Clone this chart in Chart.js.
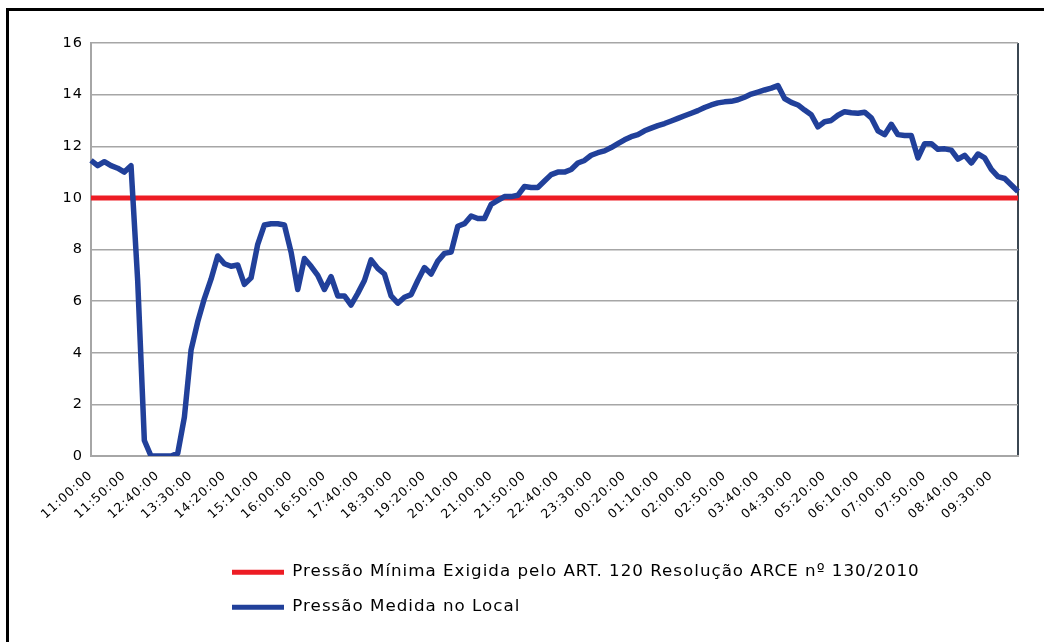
<!DOCTYPE html>
<html><head><meta charset="utf-8">
<script src="https://cdn.jsdelivr.net/npm/chart.js@4.4.1/dist/chart.umd.min.js"></script>
<style>
html,body{margin:0;padding:0;background:#fff;}
#wrap{position:relative;width:1044px;height:642px;overflow:hidden;}
#frame{position:absolute;left:6px;top:8px;width:1100px;height:700px;border-left:3px solid #000;border-top:3px solid #000;}
#c{position:absolute;left:0;top:0;}
</style></head><body>
<div id="wrap"><div id="frame"></div><canvas id="c" width="1044" height="642"></canvas></div>
<script>
// ---- data ----
const startHour = 11, startMinute = 0, stepMinutes = 10, tickEvery = 5;
const pressureMeasured = [
 11.45,11.25,11.4,11.25,11.15,11.0,11.25,6.8,0.6,0,
 0,0,0,0.1,1.5,4.1,5.2,6.1,6.85,7.75,
 7.45,7.35,7.4,6.65,6.9,8.2,8.95,9.0,9.0,8.95,
 7.9,6.45,7.65,7.35,7.0,6.45,6.95,6.2,6.2,5.85,
 6.3,6.8,7.6,7.27,7.05,6.2,5.92,6.15,6.25,6.8,
 7.3,7.05,7.55,7.85,7.9,8.9,9.0,9.3,9.2,9.2,
 9.75,9.9,10.05,10.05,10.1,10.44,10.4,10.4,10.65,10.9,
 11.0,11.0,11.1,11.35,11.45,11.65,11.75,11.82,11.95,12.1,
 12.25,12.37,12.45,12.6,12.7,12.8,12.88,12.98,13.08,13.18,
 13.28,13.38,13.5,13.6,13.68,13.72,13.74,13.8,13.9,14.02,
 14.1,14.18,14.25,14.35,13.85,13.7,13.6,13.4,13.22,12.75,
 12.95,13.0,13.2,13.34,13.3,13.28,13.32,13.1,12.6,12.45,
 12.85,12.45,12.42,12.42,11.55,12.1,12.1,11.88,11.9,11.85,
 11.5,11.65,11.35,11.7,11.55,11.1,10.82,10.75,10.5,10.25
];
const minimumPressure = 10;
const seriesNames = [
  'Pressão Mínima Exigida pelo ART. 120 Resolução ARCE nº 130/2010',
  'Pressão Medida no Local'
];
const yTickValues = [0,2,4,6,8,10,12,14,16];

// categories (time of day, 10-minute readings)
const pad2 = n => String(n).padStart(2,'0');
const categories = pressureMeasured.map((_, i) => {
  const t = (startHour*60 + startMinute + i*stepMinutes) % 1440;
  return pad2(Math.floor(t/60)) + ':' + pad2(t%60) + ':00';
});
const minimumSeries = categories.map(() => minimumPressure);

// ---- layout / styles ----
const legendLeft = 232;
const legendPad = 18.3;

// the reference text is horizontally stretched: widen glyph spacing a little
const textSpacing = {
  id: 'textSpacing',
  beforeLayout(chart) { chart.ctx.letterSpacing = '1px'; },
  beforeDraw(chart) { chart.ctx.letterSpacing = '1px'; }
};
const legendShift = {
  id: 'legendShift',
  afterLayout(chart) {
    const lg = chart.legend;
    const w = lg.width;
    lg.left = legendLeft - legendPad;
    lg.right = lg.left + w;
  }
};

new Chart(document.getElementById('c'), {
  type: 'line',
  data: {
    labels: categories,
    datasets: [
      { label: seriesNames[0], data: minimumSeries, borderColor: '#ed1c24', backgroundColor: '#ed1c24',
        borderWidth: 5, pointRadius: 0, tension: 0, order: 1 },
      { label: seriesNames[1], data: pressureMeasured, borderColor: '#21409a', backgroundColor: '#21409a',
        borderWidth: 5.5, pointRadius: 0, tension: 0, order: 0, borderJoinStyle: 'round' }
    ]
  },
  options: {
    responsive: false,
    animation: false,
    devicePixelRatio: 1,
    layout: { padding: { left: 0, top: 43, right: 26, bottom: 16.5 } },
    plugins: {
      tooltip: { enabled: false },
      legend: {
        position: 'bottom',
        align: 'start',
        fullSize: false,
        labels: {
          font: { family: 'DejaVu Sans', size: 16.7 },
          color: '#000',
          boxWidth: 52,
          boxHeight: 5,
          padding: legendPad,
          sort: (a, b) => a.datasetIndex - b.datasetIndex,
          generateLabels(chart) {
            const items = Chart.defaults.plugins.legend.labels.generateLabels(chart);
            items.forEach(it => { it.lineWidth = 0; });
            return items;
          }
        }
      }
    },
    scales: {
      x: {
        type: 'category',
        offset: false,
        afterFit(scale) { scale.height = 89.5; },
        grid: {
          drawTicks: false,
          lineWidth: 2,
          color: ctx => ctx.index === categories.length - 1 ? '#3b4752' : 'rgba(0,0,0,0)'
        },
        border: { display: true, color: '#a6a6a6', width: 2 },
        ticks: {
          autoSkip: false,
          minRotation: 42,
          maxRotation: 42,
          padding: 12,
          color: '#000',
          font: { family: 'DejaVu Sans', size: 12.5 },
          callback: (v, i) => (i % tickEvery === 0 ? categories[i] : '')
        }
      },
      y: {
        min: 0,
        max: 16,
        afterFit(scale) { scale.width = 91; },
        afterBuildTicks(scale) { scale.ticks = yTickValues.map(v => ({ value: v })); },
        grid: { drawTicks: false, color: '#a6a6a6', lineWidth: 1.5 },
        border: { display: true, color: '#a6a6a6', width: 2 },
        ticks: {
          padding: 8,
          color: '#000',
          font: { family: 'DejaVu Sans', size: 14.5 }
        }
      }
    }
  },
  plugins: [textSpacing, legendShift]
});
</script>
</body></html>
